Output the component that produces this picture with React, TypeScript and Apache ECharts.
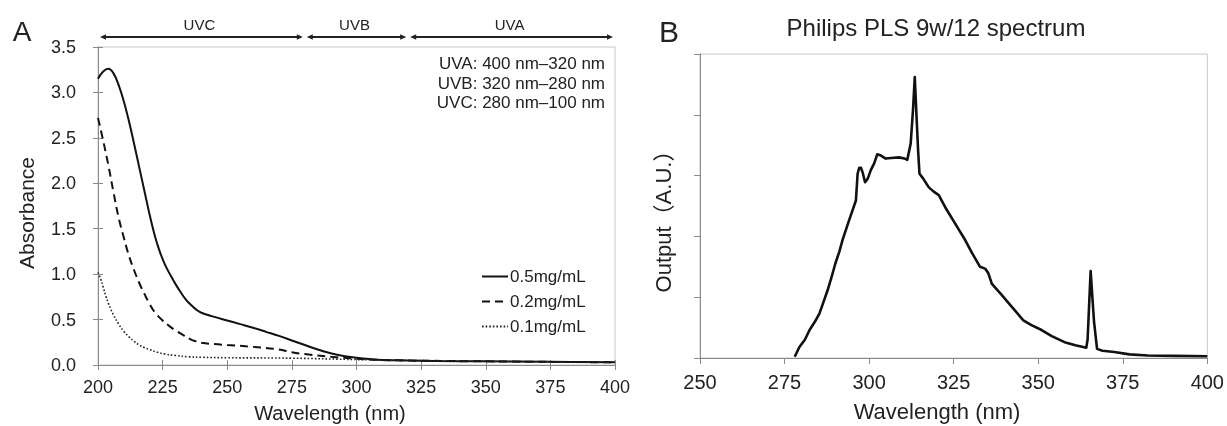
import React, { useEffect, useRef } from "react";
import * as echarts from "echarts";

const FONT = "'Liberation Sans', Arial, 'Noto Sans CJK SC', sans-serif";
const TXT = "#222";
const AXIS = "#8a8a8a";
const BORDER = "#c8c8c8";

// Panel A: absorbance spectra
const seriesNamesA = ["0.5mg/mL", "0.2mg/mL", "0.1mg/mL"];
const wl05 = [200, 202, 204, 206, 208, 210, 212, 214, 216, 218, 220, 222, 224, 226, 228, 230, 232, 234, 236, 238, 240, 245, 250, 255, 260, 265, 270, 275, 280, 285, 290, 295, 300, 305, 310, 320, 330, 350, 375, 400];
const abs05 = [3.15, 3.23, 3.26, 3.21, 3.08, 2.9, 2.68, 2.43, 2.17, 1.91, 1.65, 1.42, 1.24, 1.1, 0.99, 0.89, 0.8, 0.72, 0.66, 0.61, 0.575, 0.53, 0.49, 0.45, 0.41, 0.365, 0.32, 0.27, 0.22, 0.17, 0.13, 0.1, 0.08, 0.065, 0.055, 0.05, 0.045, 0.04, 0.035, 0.03];
const wl02 = [200, 202, 204, 206, 208, 210, 212, 214, 216, 218, 220, 222, 225, 228, 230, 233, 236, 238, 240, 245, 250, 260, 270, 275, 280, 290, 300, 310, 350, 400];
const abs02 = [2.72, 2.47, 2.2, 1.9, 1.62, 1.4, 1.2, 1.04, 0.9, 0.78, 0.67, 0.58, 0.49, 0.42, 0.38, 0.33, 0.28, 0.26, 0.245, 0.23, 0.22, 0.2, 0.17, 0.14, 0.12, 0.09, 0.07, 0.055, 0.04, 0.03];
const wl01 = [200, 201, 202, 203, 204, 205, 206, 208, 210, 212, 214, 216, 218, 220, 223, 226, 230, 235, 240, 250, 275, 300, 320, 350, 400];
const abs01 = [1.02, 0.95, 0.86, 0.76, 0.68, 0.61, 0.55, 0.45, 0.37, 0.31, 0.26, 0.22, 0.19, 0.17, 0.14, 0.12, 0.105, 0.09, 0.085, 0.08, 0.075, 0.06, 0.05, 0.04, 0.03];

// UV band arrows (start nm, end nm)
const uvBands = [[200, 280], [280, 320], [320, 400]];
const uvNames = ["UVC", "UVB", "UVA"];
const uvRanges = ["UVA: 400 nm\u2013320 nm", "UVB: 320 nm\u2013280 nm", "UVC: 280 nm\u2013100 nm"];

// Panel B: lamp spectrum
const wlB = [278, 279.4, 281, 282.4, 284, 285.3, 286.5, 287.7, 289, 290, 291.2, 292.2, 294, 296.1, 296.6, 297.1, 297.6, 298.1, 298.8, 299.6, 300.5, 301.5, 302.4, 303.5, 304.9, 306.5, 308.8, 310.5, 311.3, 312.3, 313, 313.5, 314, 314.5, 314.9, 316, 317.6, 319, 320.6, 322.5, 325, 328.4, 330.5, 332.8, 334.3, 335.2, 336.3, 339, 342.2, 345.6, 348, 351, 354, 357.8, 361, 364.2, 364.6, 365.5, 366.5, 367.4, 369, 372.5, 377, 382.4, 390, 400];
const outB = [0.02, 0.18, 0.3, 0.46, 0.6, 0.73, 0.92, 1.11, 1.35, 1.55, 1.75, 1.95, 2.25, 2.59, 3.03, 3.13, 3.13, 3.05, 2.89, 2.95, 3.09, 3.2, 3.35, 3.33, 3.28, 3.29, 3.3, 3.28, 3.26, 3.53, 4.1, 4.62, 4.0, 3.4, 3.03, 2.95, 2.81, 2.74, 2.68, 2.48, 2.25, 1.94, 1.72, 1.5, 1.47, 1.4, 1.22, 1.05, 0.84, 0.62, 0.54, 0.46, 0.36, 0.26, 0.21, 0.17, 0.3, 1.43, 0.6, 0.15, 0.12, 0.1, 0.06, 0.04, 0.035, 0.03];

const zip = (xs: number[], ys: number[]) => xs.map((x, i) => [x, ys[i]]);

export default function App() {
  const ref = useRef<HTMLDivElement>(null);
  useEffect(() => {
    if (!ref.current) return;
    const chart = echarts.init(ref.current, undefined, { renderer: "svg" });
    const tickLabel = (size: number) => ({ fontSize: size, color: TXT, fontFamily: FONT });
    const txt = (text: string, x: number, y: number, size: number, align = "center", rotation = 0) => ({
      type: "text",
      x,
      y,
      rotation,
      silent: true,
      style: {
        text,
        fontSize: size,
        fontFamily: FONT,
        fill: TXT,
        align,
        textAlign: align,
        verticalAlign: "middle",
        textVerticalAlign: "middle",
      },
    });

    const option: any = {
      animation: false,
      grid: [
        { left: 98, top: 47, width: 517, height: 318, show: true, borderColor: BORDER, borderWidth: 1, backgroundColor: "transparent" },
        { left: 700, top: 54, width: 508, height: 304, show: true, borderColor: BORDER, borderWidth: 1, backgroundColor: "transparent" },
      ],
      xAxis: [
        {
          gridIndex: 0, type: "value", min: 200, max: 400, interval: 25, position: "bottom",
          axisLine: { lineStyle: { color: AXIS, width: 1 } },
          axisTick: { show: true, length: 5, lineStyle: { color: AXIS } },
          axisLabel: { ...tickLabel(18), margin: 13 },
          splitLine: { show: false },
        },
        {
          gridIndex: 1, type: "value", min: 250, max: 400, interval: 25, position: "bottom",
          axisLine: { lineStyle: { color: AXIS, width: 1 } },
          axisTick: { show: true, length: 6, lineStyle: { color: AXIS } },
          axisLabel: { ...tickLabel(20), margin: 14 },
          splitLine: { show: false },
        },
        {
          gridIndex: 0, type: "value", min: 200, max: 400, interval: 25, position: "bottom",
          axisLine: { show: false },
          axisTick: { show: true, inside: true, length: 5, lineStyle: { color: AXIS } },
          axisLabel: { show: false },
          splitLine: { show: false },
        },
      ],
      yAxis: [
        {
          gridIndex: 0, type: "value", min: 0, max: 3.5, interval: 0.5, position: "left",
          axisLine: { show: true, lineStyle: { color: AXIS, width: 1 } },
          axisTick: { show: true, length: 5, lineStyle: { color: AXIS } },
          axisLabel: { ...tickLabel(18), margin: 22, formatter: (v: number) => v.toFixed(1) },
          splitLine: { show: false },
        },
        {
          gridIndex: 1, type: "value", min: 0, max: 5, interval: 1, position: "left",
          axisLine: { show: true, lineStyle: { color: AXIS, width: 1 } },
          axisTick: { show: true, length: 6, lineStyle: { color: AXIS } },
          axisLabel: { show: false },
          splitLine: { show: false },
        },
        {
          gridIndex: 0, type: "value", min: 0, max: 3.5, interval: 0.5, position: "left",
          axisLine: { show: false },
          axisTick: { show: true, inside: true, length: 5, lineStyle: { color: AXIS } },
          axisLabel: { show: false },
          splitLine: { show: false },
        },
      ],
      legend: {
        data: seriesNamesA,
        orient: "vertical",
        left: 481,
        top: 268,
        itemWidth: 26,
        itemHeight: 17,
        itemGap: 8,
        padding: 0,
        itemStyle: { opacity: 0 },
        textStyle: { fontSize: 17, color: TXT, fontFamily: FONT, lineHeight: 17, padding: [0, 0, 0, -3] },
      },
      series: [
        {
          name: seriesNamesA[0], type: "line", xAxisIndex: 0, yAxisIndex: 0, data: zip(wl05, abs05),
          symbol: "none", smooth: 0.4, lineStyle: { color: "#111", width: 2, type: "solid" }, itemStyle: { color: "#111" },
        },
        {
          name: seriesNamesA[1], type: "line", xAxisIndex: 0, yAxisIndex: 0, data: zip(wl02, abs02),
          symbol: "none", smooth: 0.4, lineStyle: { color: "#111", width: 2, type: [8, 5] }, itemStyle: { color: "#111" },
        },
        {
          name: seriesNamesA[2], type: "line", xAxisIndex: 0, yAxisIndex: 0, data: zip(wl01, abs01),
          symbol: "none", smooth: 0.4, lineStyle: { color: "#222", width: 1.6, type: [1.6, 2] }, itemStyle: { color: "#222" },
        },
        {
          name: "spectrum", type: "line", xAxisIndex: 1, yAxisIndex: 1, data: zip(wlB, outB),
          symbol: "none", smooth: false, lineStyle: { color: "#111", width: 2.6, join: "round" }, itemStyle: { color: "#111" },
        },
        {
          name: "uvBands", type: "custom", xAxisIndex: 0, yAxisIndex: 0, clip: false, silent: true,
          encode: { x: [0, 1] },
          data: uvBands,
          renderItem: (params: any, api: any) => {
            const a = api.coord([api.value(0), 3.5]);
            const b = api.coord([api.value(1), 3.5]);
            const y = a[1] - 10;
            const x1 = a[0] + 2;
            const x2 = b[0] - 2;
            const h = 6;
            const w = 2.8;
            return {
              type: "group",
              children: [
                { type: "line", shape: { x1: x1 + 2, y1: y, x2: x2 - 2, y2: y }, style: { stroke: "#222", lineWidth: 1.8 } },
                { type: "polygon", shape: { points: [[x1, y], [x1 + h, y - w], [x1 + h, y + w]] }, style: { fill: "#222" } },
                { type: "polygon", shape: { points: [[x2, y], [x2 - h, y - w], [x2 - h, y + w]] }, style: { fill: "#222" } },
                {
                  type: "text", x: (x1 + x2) / 2 - 2, y: y - 13,
                  style: { text: uvNames[params.dataIndex], fontSize: 15, fontFamily: FONT, fill: TXT, align: "center", verticalAlign: "middle" },
                },
              ],
            };
          },
        },
      ],
      graphic: [
        txt("A", 22, 31, 28),
        txt("B", 669, 31, 30),
        txt(uvRanges[0], 605, 63, 17, "right"),
        txt(uvRanges[1], 605, 83, 17, "right"),
        txt(uvRanges[2], 605, 102.5, 17, "right"),
        txt("Absorbance", 26, 213, 21, "center", Math.PI / 2),
        txt("Wavelength (nm)", 330, 413, 20),
        txt("Output\uFF08A.U.\uFF09", 663, 216, 22, "center", Math.PI / 2),
        txt("Wavelength (nm)", 937, 411, 22),
        txt("Philips PLS 9w/12 spectrum", 936, 27, 24),
      ],
    };
    chart.setOption(option);
    return () => chart.dispose();
  }, []);
  return <div ref={ref} style={{ position: "fixed", left: 0, top: 0, width: 1227, height: 426 }} />;
}
